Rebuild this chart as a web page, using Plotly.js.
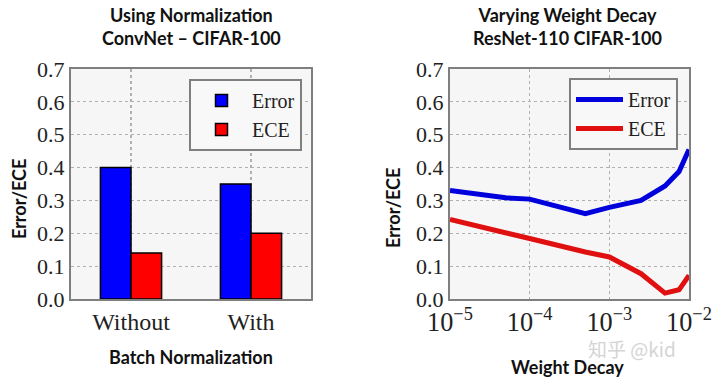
<!DOCTYPE html>
<html>
<head>
<meta charset="utf-8">
<script src="https://cdn.plot.ly/plotly-3.0.1.min.js"></script>
<style>html,body{margin:0;padding:0;background:#fff;}#chart{width:720px;height:384px;}</style>
</head>
<body>
<div id="chart"></div>
<script>
// Left panel: batch normalization
var categories = ['Without', 'With'];
var barError = [0.40, 0.35];
var barECE = [0.14, 0.20];

// Right panel: weight decay
var weightDecay = [1e-5, 5e-5, 1e-4, 5e-4, 1e-3, 2.5e-3, 5e-3, 7.5e-3, 1e-2];
var lineError = [0.33, 0.308, 0.304, 0.26, 0.279, 0.30, 0.344, 0.388, 0.455];
var lineECE = [0.242, 0.203, 0.184, 0.143, 0.128, 0.077, 0.018, 0.028, 0.072];

var yTicks = [0, 0.1, 0.2, 0.3, 0.4, 0.5, 0.6, 0.7];

var serifFam = 'Liberation Serif, Times New Roman, serif';
var serif = {family: serifFam, size: 22, color: '#222'};
var sans = 'Lato, Open Sans, sans-serif';
var titleFont = {family: sans, size: 18, color: '#111'};

var traces = [
  {type: 'bar', x: categories, y: barError, name: 'Error', xaxis: 'x', yaxis: 'y',
   marker: {color: '#0000ff', line: {color: '#000', width: 1.5}}, legend: 'legend'},
  {type: 'bar', x: categories, y: barECE, name: 'ECE', xaxis: 'x', yaxis: 'y',
   marker: {color: '#ff0000', line: {color: '#000', width: 1.5}}, legend: 'legend'},
  {type: 'scatter', mode: 'lines', x: weightDecay, y: lineError, name: 'Error', xaxis: 'x2', yaxis: 'y2',
   line: {color: '#0000dd', width: 5}, legend: 'legend2'},
  {type: 'scatter', mode: 'lines', x: weightDecay, y: lineECE, name: 'ECE', xaxis: 'x2', yaxis: 'y2',
   line: {color: '#e01010', width: 5}, legend: 'legend2'}
];

function yax(anchor) {
  return {
    domain: [85/384, 315/384], anchor: anchor, range: [0, 0.7],
    tickvals: yTicks, tickformat: '.1f', ticks: '',
    showgrid: true, gridcolor: '#b0b0b0', griddash: 'dot', gridwidth: 1.2,
    showline: true, mirror: true, linecolor: '#7f7f7f', linewidth: 2,
    zeroline: false, tickfont: serif, fixedrange: true
  };
}

var legendBase = {
  xanchor: 'left', yanchor: 'top',
  bgcolor: '#f8f8f8', bordercolor: '#7f7f7f', borderwidth: 2,
  font: {family: serifFam, size: 20, color: '#222'}, tracegroupgap: 0
};

var layout = {
  width: 720, height: 384,
  margin: {l: 0, r: 0, t: 0, b: 0},
  paper_bgcolor: '#ffffff',
  plot_bgcolor: '#f6f6f6',
  barmode: 'group', bargap: 0.49, bargroupgap: 0,
  xaxis: {
    domain: [71/720, 311/720], anchor: 'y', type: 'category', range: [-0.5, 1.5],
    ticks: '', showgrid: true, gridcolor: '#b0b0b0', griddash: 'dot', gridwidth: 1.2,
    showline: true, mirror: true, linecolor: '#7f7f7f', linewidth: 2,
    tickfont: {family: serifFam, size: 24, color: '#222'}, fixedrange: true
  },
  yaxis: yax('x'),
  xaxis2: {
    domain: [450/720, 689/720], anchor: 'y2', type: 'log', range: [-5, -2],
    dtick: 1, exponentformat: 'power', ticks: '',
    showgrid: true, gridcolor: '#b0b0b0', griddash: 'dot', gridwidth: 1.2,
    showline: true, mirror: true, linecolor: '#7f7f7f', linewidth: 2,
    tickfont: {family: serifFam, size: 21, color: '#222'}, fixedrange: true
  },
  yaxis2: yax('x2'),
  legend: Object.assign({}, legendBase, {x: 189/720, y: 1 - 79/384, itemwidth: 51}),
  legend2: Object.assign({}, legendBase, {x: 569/720, y: 1 - 78/384, itemwidth: 47}),
  showlegend: true,
  annotations: [
    {text: '<b>Using Normalization<br>ConvNet – CIFAR-100</b>', xref: 'paper', yref: 'paper',
     x: 191/720, y: 1 - 26/384, xanchor: 'center', yanchor: 'middle', showarrow: false,
     font: titleFont},
    {text: '<b>Varying Weight Decay<br>ResNet-110 CIFAR-100</b>', xref: 'paper', yref: 'paper',
     x: 567/720, y: 1 - 26/384, xanchor: 'center', yanchor: 'middle', showarrow: false,
     font: titleFont},
    {text: '<b>Error/ECE</b>', xref: 'paper', yref: 'paper', textangle: -90,
     x: 19/720, y: 1 - 199/384, xanchor: 'center', yanchor: 'middle', showarrow: false,
     font: titleFont},
    {text: '<b>Error/ECE</b>', xref: 'paper', yref: 'paper', textangle: -90,
     x: 393/720, y: 1 - 208/384, xanchor: 'center', yanchor: 'middle', showarrow: false,
     font: titleFont},
    {text: '<b>Batch Normalization</b>', xref: 'paper', yref: 'paper',
     x: 191/720, y: 1 - 357/384, xanchor: 'center', yanchor: 'middle', showarrow: false,
     font: titleFont},
    {text: '知乎 @kid', xref: 'paper', yref: 'paper',
     x: 632/720, y: 1 - 348/384, xanchor: 'center', yanchor: 'middle', showarrow: false,
     font: {family: 'Noto Sans CJK SC, sans-serif', size: 19, color: '#d4d4d4'}},
    {text: '<b>Weight Decay</b>', xref: 'paper', yref: 'paper',
     x: 567/720, y: 1 - 367/384, xanchor: 'center', yanchor: 'middle', showarrow: false,
     font: titleFont}
  ]
};

Plotly.newPlot('chart', traces, layout, {displayModeBar: false, staticPlot: true});
</script>
</body>
</html>
